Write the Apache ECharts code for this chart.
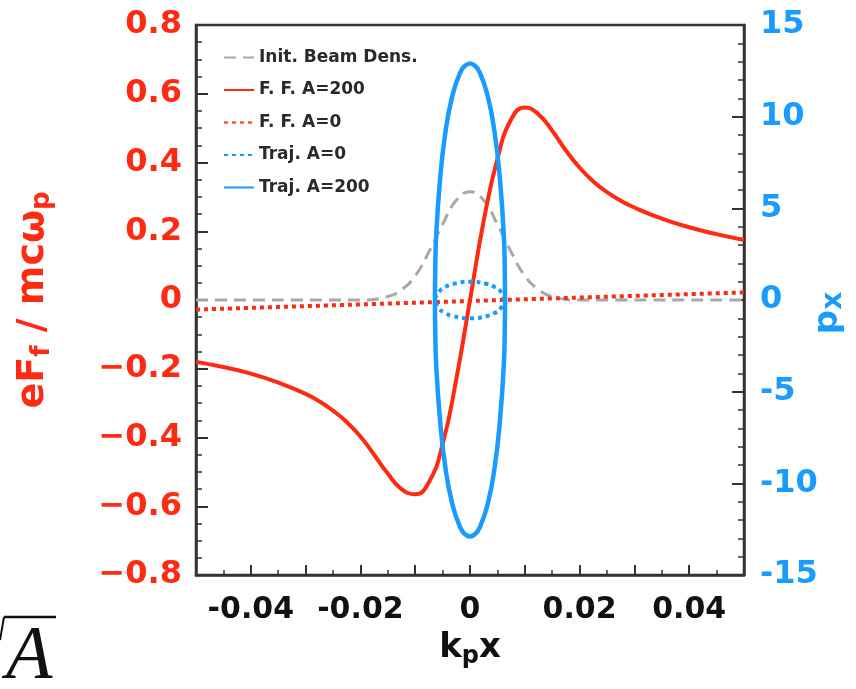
<!DOCTYPE html>
<html>
<head>
<meta charset="utf-8">
<script src="https://cdn.jsdelivr.net/npm/echarts@6/dist/echarts.min.js"></script>
<style>
  html, body { margin: 0; padding: 0; background: #fff; }
  #fieldChart { width: 856px; height: 689px; }
</style>
</head>
<body>
<div id="fieldChart"></div>
<script>

// focusing field, A=200 (left axis)
let ff200_x = [-0.05, -0.045, -0.04, -0.035, -0.03, -0.0275, -0.025, -0.0225, -0.02, -0.0175, -0.015, -0.0125, -0.01, -0.0075, -0.005, -0.0025, 0,
    0.0025, 0.005, 0.0075, 0.01, 0.0125, 0.015, 0.0175, 0.02, 0.0225, 0.025, 0.0275, 0.03, 0.035, 0.04, 0.045, 0.05];
let ff200_y = [-0.18, -0.195, -0.214, -0.24, -0.273, -0.295, -0.322, -0.355, -0.397, -0.45, -0.505, -0.55, -0.565, -0.53, -0.42, -0.23, 0.0,
    0.23, 0.41, 0.525, 0.56, 0.54, 0.4925, 0.435, 0.385, 0.345, 0.314, 0.289, 0.269, 0.2365, 0.2115, 0.1915, 0.1745];

// focusing field, A=0 (left axis)
let ff0_x = [-0.05, 0, 0.05];
let ff0_y = [-0.028, -0.003, 0.022];

// initial beam density (left axis)
let dens_x = [-0.05, -0.02, -0.015, -0.0125, -0.01, -0.0075, -0.005, -0.0025, 0, 0.0025, 0.005, 0.0075, 0.01, 0.0125, 0.015, 0.02, 0.05];
let dens_y = [0, 0, 0.01, 0.03, 0.07, 0.14, 0.22, 0.29, 0.315, 0.29, 0.22, 0.14, 0.07, 0.03, 0.01, 0, 0];

// trajectory A=200, px on right axis (closed loop)
let traj200_x = [0.0064, 0.00634, 0.0062, 0.0055, 0.0045, 0.0032, 0.0017, 0.00084, 0, -0.00084, -0.0017, -0.0032, -0.0045, -0.0055, -0.0062, -0.00634, -0.0064,
    -0.00634, -0.0062, -0.0055, -0.0045, -0.0032, -0.0017, -0.00084, 0, 0.00084, 0.0017, 0.0032, 0.0045, 0.0055, 0.0062, 0.00634, 0.0064];
let traj200_p = [0, 1.68, 3.34, 6.45, 9.12, 11.17, 12.46, 12.79, 12.9, 12.79, 12.46, 11.17, 9.12, 6.45, 3.34, 1.68, 0,
    -1.68, -3.34, -6.45, -9.12, -11.17, -12.46, -12.79, -12.9, -12.79, -12.46, -11.17, -9.12, -6.45, -3.34, -1.68, 0];

// trajectory A=0, px on right axis (closed loop)
let traj0_x = [0.0063, 0.0055, 0.0045, 0.0032, 0, -0.0032, -0.0045, -0.0055, -0.0063, -0.0055, -0.0045, -0.0032, 0, 0.0032, 0.0045, 0.0055, 0.0063];
let traj0_p = [0, 0.5, 0.71, 0.87, 1.0, 0.87, 0.71, 0.5, 0, -0.5, -0.71, -0.87, -1.0, -0.87, -0.71, -0.5, 0];

let legend_names = ['Init. Beam Dens.', 'F. F. A=200', 'F. F. A=0', 'Traj. A=0', 'Traj. A=200'];

let red = '#ff2a12';
let blue = '#1a9bff';
let gray = '#a8a8a8';
let axis_dark = '#333333';


document.addEventListener("DOMContentLoaded", () => {
    drawFieldChart();
});


function pairs(xs, ys) {
    return xs.map(function (x, i) {
        return [x, ys[i]];
    });
}


function drawFieldChart() {

    var chart = echarts.init(document.querySelector("#fieldChart"), null, { renderer: 'canvas' });

    var tickFont = 'DejaVu Sans';

    chart.setOption({
        animation: false,
        grid: {
            left: 196,
            right: 112,
            top: 25,
            bottom: 114,
            outerBoundsMode: 'none',
            containLabel: false,
            show: true,
            borderColor: axis_dark,
            borderWidth: 2.5,
            backgroundColor: 'transparent'
        },
        legend: {
            orient: 'vertical',
            left: 218,
            top: 44,
            itemWidth: 30,
            itemHeight: 14,
            itemGap: 15.5,
            data: legend_names,
            itemStyle: { opacity: 0 },
            textStyle: {
                fontFamily: tickFont,
                fontWeight: 'bold',
                fontSize: 17,
                color: '#2a2a2a'
            }
        },
        xAxis: {
            type: 'value',
            min: -0.05,
            max: 0.05,
            interval: 0.01,
            name: '{b|k}{s|p}{b|x}',
            nameLocation: 'middle',
            nameGap: 52,
            nameTextStyle: {
                rich: {
                    b: { fontFamily: tickFont, fontWeight: 'bold', fontSize: 34, color: '#111', lineHeight: 38 },
                    s: { fontFamily: tickFont, fontWeight: 'bold', fontSize: 24, color: '#111', padding: [18, 0, 0, 0] }
                }
            },
            axisLine: { show: true, onZero: false, lineStyle: { color: axis_dark, width: 2.5 } },
            axisTick: { show: true, inside: true, length: 10, lineStyle: { color: axis_dark, width: 2 } },
            minorTick: { show: true, splitNumber: 2, length: 5, lineStyle: { color: axis_dark, width: 1.5 } },
            splitLine: { show: false },
            axisLabel: {
                margin: 20,
                fontFamily: tickFont,
                fontWeight: 'bold',
                fontSize: 30,
                color: '#111',
                formatter: function (v) {
                    var k = Math.round(v * 100);
                    if (k % 2 !== 0) return '';
                    if (k === 0) return '0';
                    return (k < 0 ? '-' : '') + '0.0' + Math.abs(k);
                }
            }
        },
        yAxis: [{
            type: 'value',
            position: 'left',
            min: -0.8,
            max: 0.8,
            interval: 0.2,
            name: '{b|eF}{s|f}{b| / mcω}{s|p}',
            nameLocation: 'middle',
            nameRotate: 90,
            nameGap: 141,
            nameTextStyle: {
                rich: {
                    b: { fontFamily: tickFont, fontWeight: 'bold', fontSize: 38, color: red, lineHeight: 40 },
                    s: { fontFamily: tickFont, fontWeight: 'bold', fontSize: 26, color: red, padding: [18, 0, 0, 0] }
                }
            },
            axisLine: { show: true, onZero: false, lineStyle: { color: axis_dark, width: 2.5 } },
            axisTick: { show: true, inside: true, length: 12, lineStyle: { color: axis_dark, width: 2 } },
            minorTick: { show: true, splitNumber: 4, length: 6, lineStyle: { color: axis_dark, width: 1.5 } },
            splitLine: { show: false },
            axisLabel: {
                margin: 14,
                fontFamily: tickFont,
                fontWeight: 'bold',
                fontSize: 32,
                color: red,
                formatter: function (v) {
                    if (Math.abs(v) < 1e-9) return '0';
                    return (v < 0 ? '\u2212' : '') + Math.abs(v).toFixed(1);
                }
            }
        }, {
            type: 'value',
            position: 'right',
            min: -15,
            max: 15,
            interval: 5,
            name: '{b|p}{s|x}',
            nameLocation: 'middle',
            nameRotate: 90,
            nameGap: 64,
            nameMoveOverlap: false,
            nameTextStyle: {
                rich: {
                    b: { fontFamily: tickFont, fontWeight: 'bold', fontSize: 34, color: blue, lineHeight: 36 },
                    s: { fontFamily: tickFont, fontWeight: 'bold', fontSize: 28, color: blue, padding: [12, 26, 0, 0] }
                }
            },
            axisLine: { show: true, onZero: false, lineStyle: { color: axis_dark, width: 2.5 } },
            axisTick: { show: true, inside: true, length: 12, lineStyle: { color: axis_dark, width: 2 } },
            minorTick: { show: true, splitNumber: 5, length: 6, lineStyle: { color: axis_dark, width: 1.5 } },
            splitLine: { show: false },
            axisLabel: {
                margin: 16,
                fontFamily: tickFont,
                fontWeight: 'bold',
                fontSize: 32,
                color: blue
            }
        }],
        series: [{
            name: 'Init. Beam Dens.',
            type: 'line',
            yAxisIndex: 0,
            smooth: true,
            symbol: 'none',
            lineStyle: { color: gray, width: 3, type: [12, 7] },
            itemStyle: { color: gray },
            data: pairs(dens_x, dens_y)
        }, {
            name: 'F. F. A=200',
            type: 'line',
            yAxisIndex: 0,
            smooth: true,
            symbol: 'none',
            lineStyle: { color: red, width: 4 },
            itemStyle: { color: red },
            data: pairs(ff200_x, ff200_y)
        }, {
            name: 'F. F. A=0',
            type: 'line',
            yAxisIndex: 0,
            symbol: 'none',
            lineStyle: { color: red, width: 4, type: [4, 4] },
            itemStyle: { color: red },
            data: pairs(ff0_x, ff0_y)
        }, {
            name: 'Traj. A=0',
            type: 'line',
            yAxisIndex: 1,
            smooth: true,
            symbol: 'none',
            lineStyle: { color: blue, width: 4, type: [4, 4] },
            itemStyle: { color: blue },
            data: pairs(traj0_x, traj0_p)
        }, {
            name: 'Traj. A=200',
            type: 'line',
            yAxisIndex: 1,
            smooth: true,
            symbol: 'none',
            lineStyle: { color: blue, width: 4.5 },
            itemStyle: { color: blue },
            data: pairs(traj200_x, traj200_p)
        }],
        graphic: [{
            // cut-off radical sign in the lower left corner
            type: 'line',
            shape: { x1: 0, y1: 640, x2: 4, y2: 617 },
            style: { stroke: '#111', lineWidth: 2 }
        }, {
            type: 'line',
            shape: { x1: 4, y1: 617, x2: 56, y2: 617 },
            style: { stroke: '#111', lineWidth: 2.5 }
        }, {
            type: 'text',
            left: 6,
            top: 620,
            style: {
                text: 'A',
                fontFamily: 'Liberation Serif',
                fontStyle: 'italic',
                fontSize: 76,
                fill: '#111'
            }
        }]
    });

}
</script>
</body>
</html>
